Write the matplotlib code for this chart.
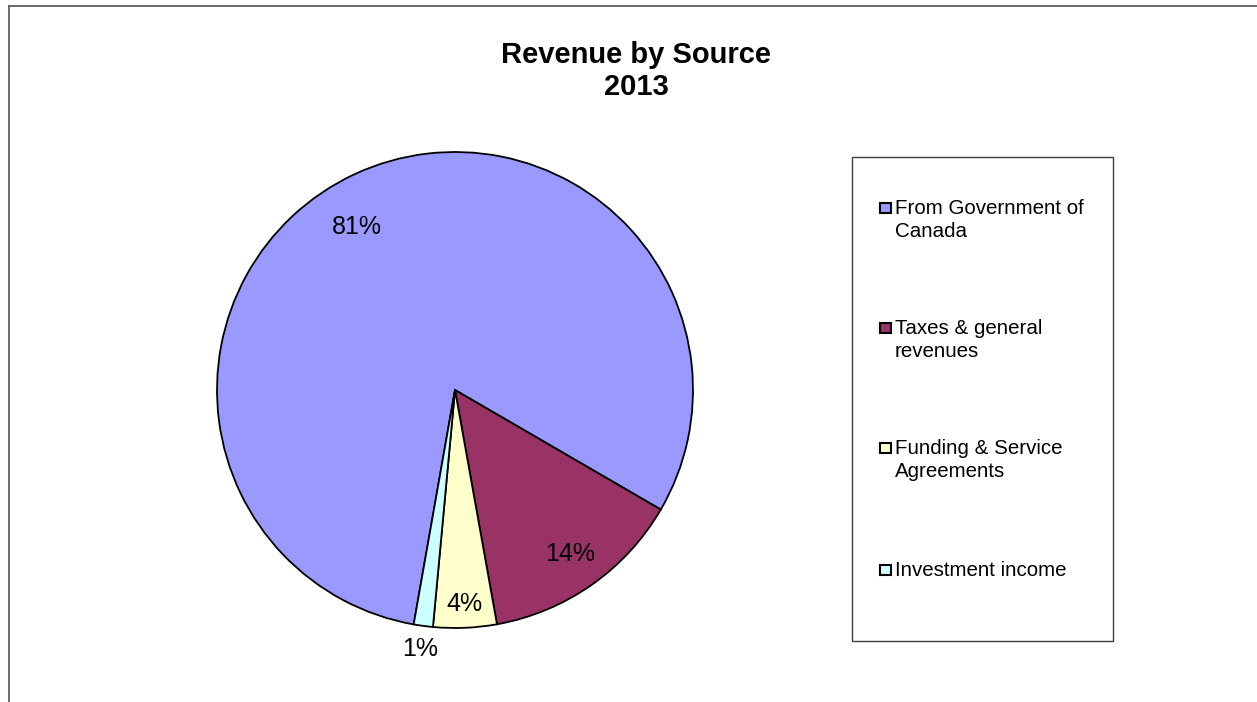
import numpy as np
import matplotlib
matplotlib.use('Agg')
from matplotlib import pyplot as plt
from matplotlib.patches import Rectangle
from matplotlib.lines import Line2D

plt.rcParams['font.family'] = ['Liberation Sans', 'DejaVu Sans']

# revenue shares, percent of total
sources = ['From Government of\nCanada', 'Taxes & general\nrevenues',
           'Funding & Service\nAgreements', 'Investment income']
shares = [80.6, 13.8, 4.3, 1.3]
colors = ['#9999FF', '#993366', '#FFFFCC', '#CCFFFF']
title = 'Revenue by Source\n2013'

# where each percentage label sits: distance in pie radii, angle nudge in degrees
label_r = [0.80, 0.84, 0.90, 1.10]
label_dtheta = [6, 0, 0, 0]

W, H = 1257, 702
fig = plt.figure(figsize=(W / 100, H / 100), dpi=100)

# outer chart frame (only top and left edges fall inside the image)
fig.add_artist(Line2D([9 / W, 1], [1 - 6 / H, 1 - 6 / H], color='#606060', lw=1.3))
fig.add_artist(Line2D([9 / W, 9 / W], [1 - 6 / H, 0], color='#606060', lw=1.3))

fig.text(636 / W, 1 - 71 / H, title, ha='center', va='center',
         fontsize=21, fontweight='bold', linespacing=1.22)

cx, cy, r = 455, 390, 238
ax = fig.add_axes([(cx - r) / W, (H - cy - r) / H, 2 * r / W, 2 * r / H])
wedges, _ = ax.pie(shares, colors=colors, startangle=-100, counterclock=False,
                   radius=1, wedgeprops=dict(edgecolor='black', linewidth=1.3))
ax.set_xlim(-1, 1)
ax.set_ylim(-1, 1)
ax.set_aspect('equal')
ax.axis('off')

for w, val, k, dt in zip(wedges, shares, label_r, label_dtheta):
    mid = np.deg2rad((w.theta1 + w.theta2) / 2 + dt)
    ax.text(k * np.cos(mid), k * np.sin(mid), '{:.0f}%'.format(val),
            ha='center', va='center', fontsize=18, clip_on=False)

# legend box drawn by hand so the marker sits on the first text line
lx0, ly0, lx1, ly1 = 852, 157, 1113, 641
fig.add_artist(Rectangle((lx0 / W, 1 - ly1 / H), (lx1 - lx0) / W, (ly1 - ly0) / H,
                         facecolor='white', edgecolor='#404040', lw=1.0))
row_y = [208, 328, 448, 570]
for lab, col, y in zip(sources, colors, row_y):
    fig.add_artist(Rectangle((880 / W, 1 - (y + 5) / H), 11 / W, 10 / H,
                             facecolor=col, edgecolor='black', lw=1.5))
    fig.text(895 / W, 1 - (y - 9) / H, lab, ha='left', va='top',
             fontsize=14.8, linespacing=1.25)

fig.savefig('out.png', dpi=100, facecolor='white')
